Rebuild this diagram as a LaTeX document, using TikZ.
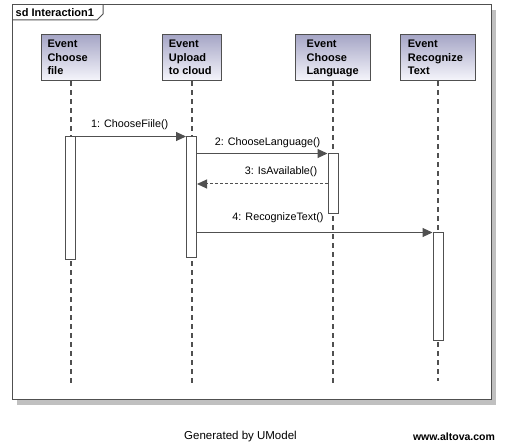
\documentclass[tikz,border=0pt]{standalone}
\usepackage{fontspec}
\setmainfont{Liberation Sans}
\usetikzlibrary{arrows.meta,calc}
\definecolor{ln}{RGB}{80,80,80}
\definecolor{shd}{RGB}{192,192,192}
\definecolor{boxtop}{RGB}{166,166,198}
\definecolor{boxbot}{RGB}{246,246,252}
\begin{document}
\begin{tikzpicture}[x=1pt,y=-1pt,
 lbox/.style={draw=ln, line width=1pt, top color=boxtop, bottom color=boxbot, minimum height=46pt, inner sep=0pt},
 ltext/.style={anchor=north west, align=left, inner sep=0pt, font=\fontsize{11}{13.6}\selectfont\bfseries},
 lifeline/.style={draw=ln, line width=2pt, dash pattern=on 5pt off 4pt},
 act/.style={draw=ln, fill=white, line width=1pt, minimum width=10pt, inner sep=0pt},
 msg/.style={draw=ln, line width=1pt, -{Triangle[length=10pt,width=9pt]}},
 reply/.style={msg, dash pattern=on 3pt off 2pt},
 lbl/.style={font=\fontsize{10.8}{12}\selectfont, inner sep=0pt},
]
\useasboundingbox (0,0) rectangle (517,446);
% frame
\fill[shd] (17,10) rectangle (496,405);
\draw[ln, fill=white, line width=1pt] (12,5) rectangle (491,400);
\draw[ln, line width=1pt] (12,20) -- (97,20) -- (103,14) -- (103,5);
\node[anchor=west, inner sep=0pt, font=\fontsize{11}{13}\selectfont\bfseries] (title) at (15.5,13) {sd Interaction1};
% lifeline heads
\node[lbox, minimum width=59pt] (b1) at (70.5,58) {};
\node[lbox, minimum width=59pt] (b2) at (191.5,58) {};
\node[lbox, minimum width=75pt] (b3) at (333,58) {};
\node[lbox, minimum width=75pt] (b4) at (438,58) {};
\node[ltext] (t1) at (47.3,40) {Event\\Choose\\file};
\node[ltext] (t2) at (168.7,40) {Event\\Upload\\to cloud};
\node[ltext] (t3) at (306.5,40) {Event\\Choose\\Language};
\node[ltext] (t4) at (407.7,40) {Event\\Recognize\\Text};
% lifelines
\coordinate (e1) at (70.5,386);
\coordinate (e2) at (191.5,386);
\coordinate (e3) at (333,387);
\coordinate (e4) at (438,381);
\draw[lifeline] (b1.south) -- (e1);
\draw[lifeline] (b2.south) -- (e2);
\draw[lifeline] (b3.south) -- (e3);
\draw[lifeline] (b4.south) -- (e4);
% activations
\node[act, minimum height=123pt] (a1) at (70.5,198.5) {};
\node[act, minimum height=121pt] (a2) at (191.5,197.5) {};
\node[act, minimum height=60pt] (a3) at (333,184) {};
\node[act, minimum height=108pt] (a4) at (438,287) {};
% messages
\draw[msg] (a1.north east) -- (a2.north west);
\draw[msg] (a3.north west -| a2.east) -- (a3.north west);
\draw[reply] (a3.west) -- (a3.west -| a2.east);
\draw[msg] (a4.north west -| a2.east) -- (a4.north west);
\node[lbl] (l1) at (129.7,124.5) {1: ChooseFiile()};
\node[lbl] (l2) at (267.5,142.5) {2: ChooseLanguage()};
\node[lbl] (l3) at (281,171.5) {3: IsAvailable()};
\node[lbl] (l4) at (278,217.5) {4: RecognizeText()};
% footer
\node[inner sep=0pt, font=\fontsize{11.5}{13}\selectfont] (gen) at (240.5,437) {Generated by UModel};
\node[inner sep=0pt, font=\fontsize{10.5}{13}\selectfont\bfseries] (web) at (454,437) {www.altova.com};
\end{tikzpicture}
\end{document}
